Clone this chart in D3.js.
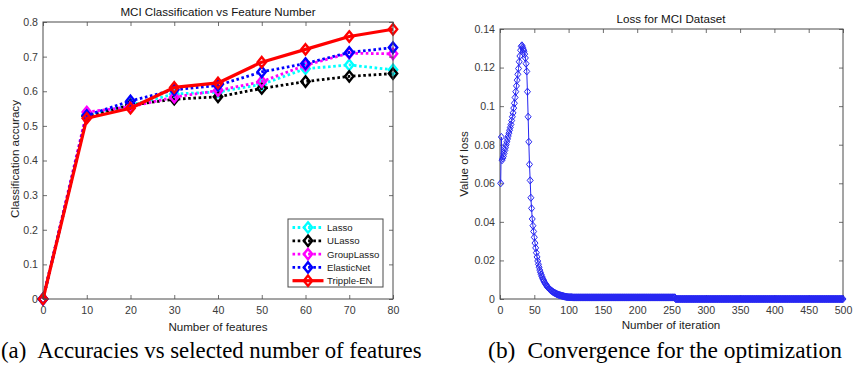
<!DOCTYPE html>
<html>
<head>
<meta charset="utf-8">
<script src="https://cdn.jsdelivr.net/npm/d3@7"></script>
<style>
  body { margin: 0; background: #fff; }
  svg { display: block; }
</style>
</head>
<body>
<svg id="fig" width="853" height="372"></svg>
<script>
// ---- Accuracy vs number of selected features ----
const featureCounts = [0, 10, 20, 30, 40, 50, 60, 70, 80];
const lassoAcc      = [0, 0.533, 0.560, 0.592, 0.598, 0.620, 0.665, 0.676, 0.662];
const ulassoAcc     = [0, 0.528, 0.560, 0.577, 0.584, 0.608, 0.628, 0.643, 0.651];
const groupLassoAcc = [0, 0.540, 0.555, 0.583, 0.602, 0.628, 0.675, 0.710, 0.708];
const elasticNetAcc = [0, 0.530, 0.572, 0.604, 0.617, 0.656, 0.680, 0.712, 0.726];
const trippleEnAcc  = [0, 0.522, 0.551, 0.611, 0.624, 0.684, 0.721, 0.758, 0.779];
const seriesNames   = ["Lasso", "ULasso", "GroupLasso", "ElasticNet", "Tripple-EN"];
const seriesColors  = ["#00ffff", "#000000", "#ff00ff", "#0000ff", "#ff0000"];
const accXTicks = [0, 10, 20, 30, 40, 50, 60, 70, 80];
const accYTicks = [0, 0.1, 0.2, 0.3, 0.4, 0.5, 0.6, 0.7, 0.8];

// ---- Loss per iteration (iterations 1..500) ----
const lossValues = [
  0.0600, 0.0840, 0.0720, 0.0730, 0.0740, 0.0755, 0.0770, 0.0785, 0.0800, 0.0815,
  0.0830, 0.0845, 0.0860, 0.0875, 0.0890, 0.0905, 0.0925, 0.0945, 0.0965, 0.0990,
  0.1015, 0.1045, 0.1075, 0.1105, 0.1135, 0.1165, 0.1195, 0.1230, 0.1260, 0.1290,
  0.1310, 0.1315, 0.1305, 0.1295, 0.1285, 0.1270, 0.1250, 0.1220, 0.1180, 0.1075,
  0.0945, 0.0815, 0.0698, 0.0615, 0.0525, 0.0470, 0.0415, 0.0380, 0.0350, 0.0320,
  0.0290, 0.0265, 0.0240, 0.0218, 0.0197, 0.0180, 0.0165, 0.0150, 0.0138, 0.0127,
  0.0117, 0.0108, 0.0100, 0.0093, 0.0086, 0.0080, 0.0074, 0.0069, 0.0064, 0.0060,
  0.0056, 0.0052, 0.0049, 0.0046, 0.0043, 0.0040, 0.0037, 0.0035, 0.0033, 0.0031,
  0.0029, 0.0027, 0.0025, 0.0024, 0.0022, 0.0021, 0.0020, 0.0019, 0.0018, 0.0017,
  0.0016, 0.0015, 0.0014, 0.0013, 0.0012, 0.0012, 0.0011, 0.0010, 0.0010, 0.0009,
  0.0009, 0.0009, 0.0009, 0.0009, 0.0009, 0.0008, 0.0008, 0.0008, 0.0008, 0.0008,
  0.0008, 0.0008, 0.0008, 0.0008, 0.0008, 0.0008, 0.0008, 0.0008, 0.0008, 0.0008,
  0.0008, 0.0008, 0.0008, 0.0008, 0.0008, 0.0008, 0.0008, 0.0008, 0.0008, 0.0008,
  0.0008, 0.0008, 0.0008, 0.0008, 0.0008, 0.0008, 0.0008, 0.0008, 0.0008, 0.0008,
  0.0008, 0.0008, 0.0008, 0.0008, 0.0008, 0.0008, 0.0008, 0.0008, 0.0008, 0.0008,
  0.0008, 0.0008, 0.0008, 0.0008, 0.0008, 0.0008, 0.0008, 0.0008, 0.0008, 0.0008,
  0.0008, 0.0008, 0.0008, 0.0008, 0.0008, 0.0008, 0.0008, 0.0008, 0.0008, 0.0008,
  0.0008, 0.0008, 0.0008, 0.0008, 0.0008, 0.0008, 0.0008, 0.0008, 0.0008, 0.0008,
  0.0008, 0.0008, 0.0008, 0.0008, 0.0008, 0.0008, 0.0008, 0.0008, 0.0008, 0.0008,
  0.0008, 0.0008, 0.0008, 0.0008, 0.0008, 0.0008, 0.0008, 0.0008, 0.0008, 0.0008,
  0.0008, 0.0008, 0.0008, 0.0008, 0.0008, 0.0008, 0.0008, 0.0008, 0.0008, 0.0008,
  0.0008, 0.0008, 0.0008, 0.0008, 0.0008, 0.0008, 0.0008, 0.0008, 0.0008, 0.0008,
  0.0008, 0.0008, 0.0008, 0.0008, 0.0008, 0.0008, 0.0008, 0.0008, 0.0008, 0.0008,
  0.0008, 0.0008, 0.0008, 0.0008, 0.0008, 0.0008, 0.0008, 0.0008, 0.0008, 0.0008,
  0.0008, 0.0008, 0.0008, 0.0008, 0.0008, 0.0008, 0.0008, 0.0008, 0.0008, 0.0008,
  0.0008, 0.0008, 0.0008, 0.0008, 0.0008, 0.0000, 0.0000, 0.0000, 0.0000, 0.0000,
  0, 0, 0, 0, 0, 0, 0, 0, 0, 0, 0, 0, 0, 0, 0, 0, 0, 0, 0, 0,
  0, 0, 0, 0, 0, 0, 0, 0, 0, 0, 0, 0, 0, 0, 0, 0, 0, 0, 0, 0,
  0, 0, 0, 0, 0, 0, 0, 0, 0, 0, 0, 0, 0, 0, 0, 0, 0, 0, 0, 0,
  0, 0, 0, 0, 0, 0, 0, 0, 0, 0, 0, 0, 0, 0, 0, 0, 0, 0, 0, 0,
  0, 0, 0, 0, 0, 0, 0, 0, 0, 0, 0, 0, 0, 0, 0, 0, 0, 0, 0, 0,
  0, 0, 0, 0, 0, 0, 0, 0, 0, 0, 0, 0, 0, 0, 0, 0, 0, 0, 0, 0,
  0, 0, 0, 0, 0, 0, 0, 0, 0, 0, 0, 0, 0, 0, 0, 0, 0, 0, 0, 0,
  0, 0, 0, 0, 0, 0, 0, 0, 0, 0, 0, 0, 0, 0, 0, 0, 0, 0, 0, 0,
  0, 0, 0, 0, 0, 0, 0, 0, 0, 0, 0, 0, 0, 0, 0, 0, 0, 0, 0, 0,
  0, 0, 0, 0, 0, 0, 0, 0, 0, 0, 0, 0, 0, 0, 0, 0, 0, 0, 0, 0,
  0, 0, 0, 0, 0, 0, 0, 0, 0, 0, 0, 0, 0, 0, 0, 0, 0, 0, 0, 0,
  0, 0, 0, 0, 0, 0, 0, 0, 0, 0, 0, 0, 0, 0, 0, 0, 0, 0, 0, 0
];
const lossXTicks = [0, 50, 100, 150, 200, 250, 300, 350, 400, 450, 500];
const lossYTicks = [0, 0.02, 0.04, 0.06, 0.08, 0.1, 0.12, 0.14];

const svg = d3.select("#fig");
const AXIS_COLOR = "#4a4a4a";
const TICK_TEXT = "#3a3a3a";
const SANS = "'Liberation Sans', Arial, Helvetica, sans-serif";
const SERIF = "'Liberation Serif', 'Times New Roman', serif";
const fmt = d => d === 0 ? "0" : String(+d.toFixed(2));

// Diamond marker path centred on (0,0)
function diamond(hw, hh) {
  return `M0,${-hh}L${hw},0L0,${hh}L${-hw},0Z`;
}

// Boxed axes with inward ticks on all four sides
function drawFrame(g, x, y, xTicks, yTicks) {
  const [x0, x1] = x.range();
  const [y0, y1] = y.range();
  const style = sel => {
    sel.select(".domain").remove();
    sel.selectAll(".tick line").attr("stroke", AXIS_COLOR).attr("stroke-width", 0.8);
    sel.selectAll(".tick text").attr("fill", TICK_TEXT)
      .style("font-family", SANS).style("font-size", "10.6px");
  };
  g.append("g").attr("transform", `translate(0,${y0})`)
    .call(d3.axisBottom(x).tickValues(xTicks).tickFormat(fmt).tickSizeInner(-4).tickSizeOuter(0).tickPadding(7))
    .call(style);
  g.append("g").attr("transform", `translate(0,${y1})`)
    .call(d3.axisTop(x).tickValues(xTicks).tickFormat("").tickSizeInner(-4).tickSizeOuter(0))
    .call(style);
  g.append("g").attr("transform", `translate(${x0},0)`)
    .call(d3.axisLeft(y).tickValues(yTicks).tickFormat(fmt).tickSizeInner(-4).tickSizeOuter(0).tickPadding(5))
    .call(style);
  g.append("g").attr("transform", `translate(${x1},0)`)
    .call(d3.axisRight(y).tickValues(yTicks).tickFormat("").tickSizeInner(-4).tickSizeOuter(0))
    .call(style);
  g.append("rect")
    .attr("x", x0).attr("y", y1).attr("width", x1 - x0).attr("height", y0 - y1)
    .attr("fill", "none").attr("stroke", AXIS_COLOR).attr("stroke-width", 1);
}

function label(g, text, x, y, size, rotate) {
  const t = g.append("text")
    .attr("text-anchor", "middle")
    .attr("fill", "#222")
    .style("font-family", SANS).style("font-size", size + "px")
    .text(text);
  if (rotate) t.attr("transform", `translate(${x},${y}) rotate(-90)`);
  else t.attr("x", x).attr("y", y);
  return t;
}

// ================= Left: classification accuracy =================
{
  const g = svg.append("g");
  const x = d3.scaleLinear().domain([0, 80]).range([43, 393]);
  const y = d3.scaleLinear().domain([0, 0.8]).range([299, 22]);

  const seriesValues = [lassoAcc, ulassoAcc, groupLassoAcc, elasticNetAcc, trippleEnAcc];
  const series = seriesNames.map((name, i) => ({
    name, color: seriesColors[i], solid: i === 4,
    points: featureCounts.map((f, j) => ({ f, v: seriesValues[i][j] }))
  }));

  const line = d3.line().x(d => x(d.f)).y(d => y(d.v));
  const plot = g.append("g");

  series.forEach(s => {
    const sg = plot.append("g");
    sg.append("path")
      .datum(s.points)
      .attr("d", line)
      .attr("fill", "none")
      .attr("stroke", s.color)
      .attr("stroke-width", s.solid ? 3.2 : 2.8)
      .attr("stroke-dasharray", s.solid ? null : "2.6,2.6")
      .attr("stroke-linejoin", "round");
    sg.selectAll("path.mk")
      .data(s.points)
      .join("path")
      .attr("class", "mk")
      .attr("transform", d => `translate(${x(d.f)},${y(d.v)})`)
      .attr("d", diamond(4.2, 5.2))
      .attr("fill", "none")
      .attr("stroke", s.color)
      .attr("stroke-width", 2.4);
  });

  drawFrame(g, x, y, accXTicks, accYTicks);

  // legend
  const lg = g.append("g");
  lg.append("rect")
    .attr("x", 288).attr("y", 219).attr("width", 95).attr("height", 68)
    .attr("fill", "#fff").attr("stroke", AXIS_COLOR).attr("stroke-width", 1);
  series.forEach((s, i) => {
    const yy = 227.5 + i * 13.3;
    lg.append("line")
      .attr("x1", 292.5).attr("x2", 323.5).attr("y1", yy).attr("y2", yy)
      .attr("stroke", s.color)
      .attr("stroke-width", s.solid ? 3.2 : 2.8)
      .attr("stroke-dasharray", s.solid ? null : "2.6,2.6");
    lg.append("path")
      .attr("transform", `translate(308,${yy})`)
      .attr("d", diamond(4.2, 5.2))
      .attr("fill", "none").attr("stroke", s.color).attr("stroke-width", 2.4);
    lg.append("text")
      .attr("x", 327).attr("y", yy + 3.4)
      .attr("fill", "#222")
      .style("font-family", SANS).style("font-size", "9.6px")
      .text(s.name);
  });

  label(g, "MCI Classification vs Feature Number", 218, 16, 11.6).attr("fill", "#111");
  label(g, "Number of features", 218, 331, 11.6);
  label(g, "Classification accuracy", 19, 159, 11.6, true);
}

// ================= Right: loss convergence =================
{
  const g = svg.append("g");
  const x = d3.scaleLinear().domain([0, 500]).range([500, 843]);
  const y = d3.scaleLinear().domain([0, 0.14]).range([299, 29]);
  const pts = lossValues.map((v, i) => ({ it: i + 1, v }));
  const blue = "#2626f2";

  drawFrame(g, x, y, lossXTicks, lossYTicks);

  g.append("path")
    .datum(pts)
    .attr("d", d3.line().x(d => x(d.it)).y(d => y(d.v)))
    .attr("fill", "none").attr("stroke", blue).attr("stroke-width", 1);
  g.append("g").selectAll("path")
    .data(pts)
    .join("path")
    .attr("transform", d => `translate(${x(d.it)},${y(d.v)})`)
    .attr("d", diamond(3, 3.6))
    .attr("fill", "none").attr("stroke", blue).attr("stroke-width", 1);

  label(g, "Loss for MCI Dataset", 671, 23, 11.6).attr("fill", "#111");
  label(g, "Number of iteration", 671, 329, 11.6);
  label(g, "Value of loss", 468, 164, 11.6, true);
}

// ================= Sub-figure captions =================
const capA = svg.append("text")
  .attr("x", 1).attr("y", 358).attr("fill", "#000")
  .style("font-family", SERIF).style("font-size", "22.8px");
capA.append("tspan").text("(a)");
capA.append("tspan").attr("dx", 11).text("Accuracies vs selected number of features");

const capB = svg.append("text")
  .attr("y", 358).attr("fill", "#000")
  .style("font-family", SERIF).style("font-size", "23.4px");
capB.append("tspan").text("(b)");
capB.append("tspan").attr("dx", 12).text("Convergence for the optimization");
capB.attr("x", 842).attr("text-anchor", "end");
</script>
</body>
</html>
